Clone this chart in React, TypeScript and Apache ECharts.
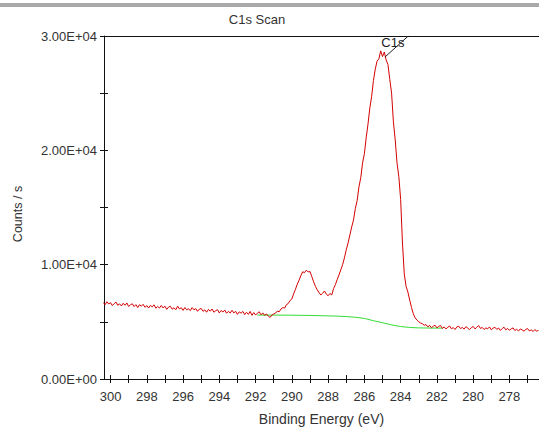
import React, { useEffect, useRef } from "react";
import * as echarts from "echarts";

// Binding energy (eV), one row per whole eV, and measured counts/s for the C1s scan
const energy = [
  300.4, 300.3, 300.2, 300.1, 300.0,
  299.9, 299.8, 299.7, 299.6, 299.5, 299.4, 299.3, 299.2, 299.1, 299.0,
  298.9, 298.8, 298.7, 298.6, 298.5, 298.4, 298.3, 298.2, 298.1, 298.0,
  297.9, 297.8, 297.7, 297.6, 297.5, 297.4, 297.3, 297.2, 297.1, 297.0,
  296.9, 296.8, 296.7, 296.6, 296.5, 296.4, 296.3, 296.2, 296.1, 296.0,
  295.9, 295.8, 295.7, 295.6, 295.5, 295.4, 295.3, 295.2, 295.1, 295.0,
  294.9, 294.8, 294.7, 294.6, 294.5, 294.4, 294.3, 294.2, 294.1, 294.0,
  293.9, 293.8, 293.7, 293.6, 293.5, 293.4, 293.3, 293.2, 293.1, 293.0,
  292.9, 292.8, 292.7, 292.6, 292.5, 292.4, 292.3, 292.2, 292.1, 292.0,
  291.9, 291.8, 291.7, 291.6, 291.5, 291.4, 291.3, 291.2, 291.1, 291.0,
  290.9, 290.8, 290.7, 290.6, 290.5, 290.4, 290.3, 290.2, 290.1, 290.0,
  289.9, 289.8, 289.7, 289.6, 289.5, 289.4, 289.3, 289.2, 289.1, 289.0,
  288.9, 288.8, 288.7, 288.6, 288.5, 288.4, 288.3, 288.2, 288.1, 288.0,
  287.9, 287.8, 287.7, 287.6, 287.5, 287.4, 287.3, 287.2, 287.1, 287.0,
  286.9, 286.8, 286.7, 286.6, 286.5, 286.4, 286.3, 286.2, 286.1, 286.0,
  285.9, 285.8, 285.7, 285.6, 285.5, 285.4, 285.3, 285.2, 285.1, 285.0,
  284.9, 284.8, 284.7, 284.6, 284.5, 284.4, 284.3, 284.2, 284.1, 284.0,
  283.9, 283.8, 283.7, 283.6, 283.5, 283.4, 283.3, 283.2, 283.1, 283.0,
  282.9, 282.8, 282.7, 282.6, 282.5, 282.4, 282.3, 282.2, 282.1, 282.0,
  281.9, 281.8, 281.7, 281.6, 281.5, 281.4, 281.3, 281.2, 281.1, 281.0,
  280.9, 280.8, 280.7, 280.6, 280.5, 280.4, 280.3, 280.2, 280.1, 280.0,
  279.9, 279.8, 279.7, 279.6, 279.5, 279.4, 279.3, 279.2, 279.1, 279.0,
  278.9, 278.8, 278.7, 278.6, 278.5, 278.4, 278.3, 278.2, 278.1, 278.0,
  277.9, 277.8, 277.7, 277.6, 277.5, 277.4, 277.3, 277.2, 277.1, 277.0,
  276.9, 276.8, 276.7, 276.6, 276.5, 276.4,
];
const counts = [
  6690, 6500, 6760, 6560, 6680,
  6420, 6590, 6730, 6450, 6570, 6390, 6620, 6450, 6650, 6340,
  6490, 6580, 6340, 6500, 6250, 6500, 6370, 6530, 6270, 6420,
  6210, 6440, 6310, 6490, 6190, 6340, 6210, 6430, 6210, 6370,
  6090, 6290, 6360, 6110, 6230, 6060, 6370, 6130, 6240, 6000,
  6250, 6050, 6150, 5980, 6250, 6050, 6160, 5920, 6110, 6170,
  5920, 6050, 5840, 6090, 5930, 6120, 5840, 5970, 6060, 5780,
  5990, 5860, 6030, 5750, 5920, 5770, 6010, 5780, 5920, 5650,
  5870, 5760, 5910, 5630, 5840, 5650, 5910, 5570, 5810, 5590,
  5760, 5880, 5620, 5780, 5560, 5690, 5500, 5380, 5600, 5680,
  5760, 5940, 5880, 6120, 6240, 6200, 6500, 6600, 6860, 7000,
  7450, 7850, 8300, 8650, 9050, 9380, 9300, 9520, 9360, 9400,
  8950, 8500, 8100, 7800, 7550, 7350, 7500, 7700, 7420, 7280,
  7480, 7350, 7900, 8250, 8700, 9100, 9550, 10000, 10600, 11300,
  11900, 12600, 13300, 13900, 14900, 15600, 16800, 17600, 18900, 19700,
  21100, 22300, 23700, 24700, 26100, 27100, 27800, 28000, 28700, 28200,
  28600, 27900, 27500, 26200, 25000, 22500, 20900, 18900, 17700, 15700,
  11900, 9200, 8100, 7600, 6900, 6250, 5700, 5350, 5150, 5000,
  4900, 4830, 4700, 4760, 4560, 4690, 4480, 4620, 4700, 4470,
  4600, 4690, 4420, 4560, 4380, 4520, 4640, 4390, 4500, 4330,
  4560, 4620, 4410, 4510, 4360, 4580, 4450, 4320, 4490, 4600,
  4380, 4520, 4680, 4420, 4510, 4330, 4470, 4390, 4560, 4300,
  4450, 4520, 4340, 4460, 4250, 4410, 4530, 4300, 4420, 4260,
  4390, 4470, 4240, 4350, 4200, 4380, 4290, 4180, 4330, 4410,
  4200, 4300, 4150, 4320, 4190, 4250,
];

// Fitted background (green)
const bgEnergy = [
  291.9, 291.0, 290.0, 289.5, 289.0, 288.5, 288.0, 287.5, 287.0, 286.5,
  286.0, 285.5, 285.0, 284.5, 284.0, 283.5, 283.0, 282.5, 282.0, 281.7,
];
const bgCounts = [
  5590, 5590, 5580, 5570, 5560, 5540, 5520, 5500, 5460, 5400,
  5300, 5100, 4920, 4730, 4590, 4510, 4470, 4460, 4450, 4450,
];

// Peak annotation
const peakName = "C1s";
const peakLeader = [
  [284.87, 28150],
  [283.58, 30000],
];
const peakLabelAt = [284.43, 29390];

// Axis ticks
const xLabelValues = [278, 280, 282, 284, 286, 288, 290, 292, 294, 296, 298, 300];
const xTickValues = [
  277, 278, 279, 280, 281, 282, 283, 284, 285, 286, 287, 288,
  289, 290, 291, 292, 293, 294, 295, 296, 297, 298, 299, 300,
];
const xMin = 276.37;
const xMax = 300.36;
const yMin = 0;
const yMax = 30000;
const yTickStep = 5000;
const yLabelStep = 10000;

const FONT = "'Liberation Sans', Arial, sans-serif";

function sci(v: number): string {
  if (v === 0) return "0.00E+00";
  const e = Math.floor(Math.log10(Math.abs(v)));
  const m = v / Math.pow(10, e);
  const sign = e < 0 ? "-" : "+";
  return `${m.toFixed(2)}E${sign}${String(Math.abs(e)).padStart(2, "0")}`;
}

export default function App() {
  const ref = useRef<HTMLDivElement>(null);

  useEffect(() => {
    document.body.style.margin = "0";
    const el = ref.current;
    if (!el) return;
    const chart = echarts.init(el, null, { renderer: "svg" });

    const spectrum = energy.map((e, i) => [e, counts[i]]);
    const background = bgEnergy.map((e, i) => [e, bgCounts[i]]);

    const xBase = {
      type: "value" as const,
      min: xMin,
      max: xMax,
      inverse: true,
      splitLine: { show: false },
    };
    const yBase = {
      type: "value" as const,
      min: yMin,
      max: yMax,
      interval: yTickStep,
      splitLine: { show: false },
    };

    chart.setOption({
      animation: false,
      backgroundColor: "#ffffff",
      textStyle: { fontFamily: FONT },
      grid: {
        left: 104,
        right: 0,
        top: 36,
        bottom: 49,
        containLabel: false,
        outerBoundsMode: "none",
      },
      graphic: [
        {
          type: "rect",
          shape: { x: 0, y: 3, width: 539, height: 4 },
          style: { fill: "#a9a9a9" },
        },
        {
          type: "text",
          x: 257,
          y: 19,
          style: {
            text: "C1s Scan",
            fontSize: 13,
            fontFamily: FONT,
            fill: "#333333",
            textAlign: "center",
            textVerticalAlign: "middle",
          },
        },
        {
          type: "text",
          x: 18,
          y: 214,
          rotation: Math.PI / 2,
          style: {
            text: "Counts / s",
            fontSize: 12.5,
            fontFamily: FONT,
            fill: "#333333",
            textAlign: "center",
            textVerticalAlign: "middle",
          },
        },
      ],
      xAxis: [
        {
          ...xBase,
          position: "bottom",
          axisLine: { show: true, lineStyle: { color: "#111", width: 1 } },
          axisTick: {
            show: true,
            inside: false,
            length: 4,
            customValues: xTickValues,
            lineStyle: { color: "#111" },
          },
          axisLabel: {
            show: true,
            customValues: xLabelValues,
            color: "#333",
            fontSize: 13,
            fontFamily: FONT,
            margin: 11,
          },
          name: "Binding Energy (eV)",
          nameLocation: "middle",
          nameGap: 33,
          nameTextStyle: { color: "#333", fontSize: 14, fontFamily: FONT },
        },
        {
          ...xBase,
          position: "bottom",
          axisLine: { show: false },
          axisTick: {
            show: true,
            inside: true,
            length: 4,
            customValues: xTickValues,
            lineStyle: { color: "#111" },
          },
          axisLabel: { show: false },
        },
        {
          ...xBase,
          position: "top",
          axisLine: { show: true, lineStyle: { color: "#111", width: 1 } },
          axisTick: { show: false },
          axisLabel: { show: false },
        },
      ],
      yAxis: [
        {
          ...yBase,
          position: "left",
          axisLine: { show: true, lineStyle: { color: "#111", width: 1 } },
          axisTick: { show: true, inside: false, length: 4, lineStyle: { color: "#111" } },
          axisLabel: {
            color: "#333",
            fontSize: 13,
            fontFamily: FONT,
            margin: 7,
            formatter: (v: number) => (v % yLabelStep === 0 ? sci(v) : ""),
          },
        },
        {
          ...yBase,
          position: "left",
          axisLine: { show: false },
          axisTick: { show: true, inside: true, length: 4, lineStyle: { color: "#111" } },
          axisLabel: { show: false },
        },
      ],
      series: [
        {
          type: "line",
          name: "Background",
          data: background,
          showSymbol: false,
          symbol: "none",
          lineStyle: { color: "#33dd33", width: 1 },
          silent: true,
          z: 2,
        },
        {
          type: "line",
          name: "C1s",
          data: spectrum,
          showSymbol: false,
          symbol: "none",
          lineStyle: { color: "#d40000", width: 1 },
          silent: true,
          z: 3,
        },
        {
          type: "line",
          name: "leader",
          data: peakLeader,
          showSymbol: false,
          symbol: "none",
          lineStyle: { color: "#222", width: 1 },
          silent: true,
          z: 4,
          markPoint: {
            symbol: "circle",
            symbolSize: 0,
            silent: true,
            data: [{ coord: peakLabelAt, value: peakName }],
            label: {
              show: true,
              position: "inside",
              formatter: peakName,
              color: "#222",
              fontSize: 13,
              fontFamily: FONT,
            },
          },
        },
      ],
    });

    return () => chart.dispose();
  }, []);

  return <div ref={ref} style={{ width: 539, height: 428 }} />;
}
